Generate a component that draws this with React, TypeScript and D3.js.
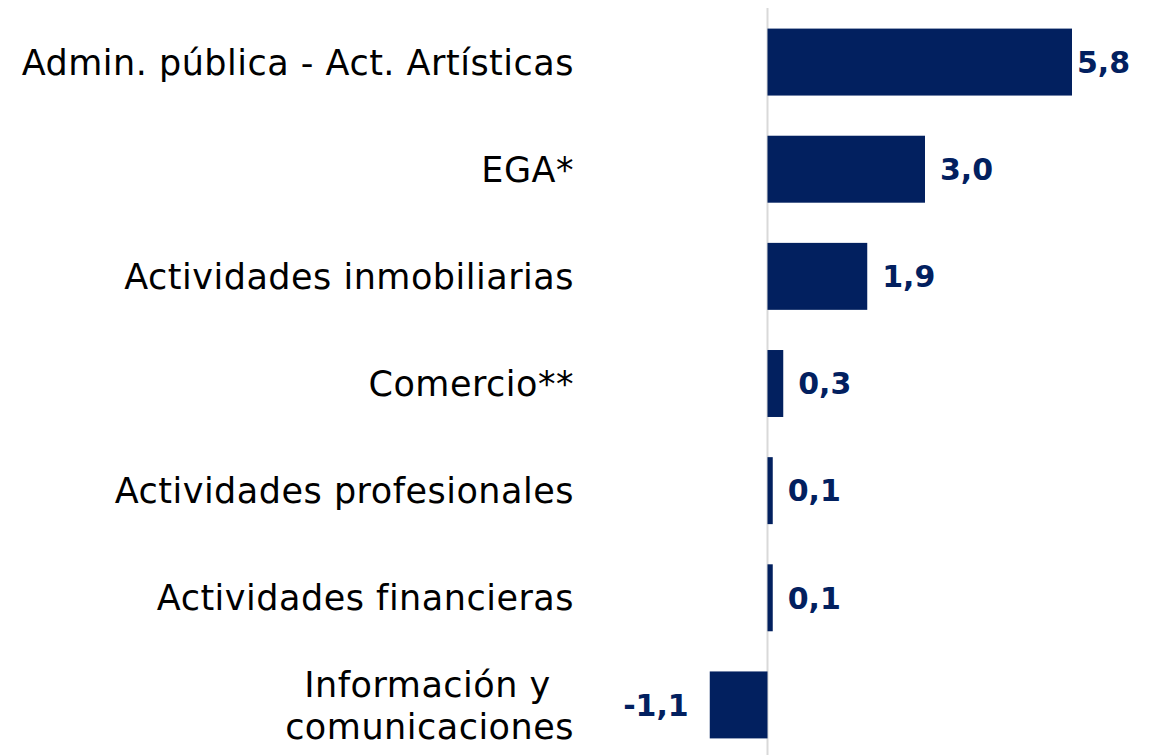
import React from 'react';
import { scaleLinear, scaleBand } from 'd3';

const categories = [
  'Admin. pública - Act. Artísticas',
  'EGA*',
  'Actividades inmobiliarias',
  'Comercio**',
  'Actividades profesionales',
  'Actividades financieras',
  'Información y  \ncomunicaciones',
];
const values = [5.8, 3.0, 1.9, 0.3, 0.1, 0.1, -1.1];

const W = 1157;
const H = 755;
const navy = '#02205f';

const App = () => {
  const x = scaleLinear().domain([0, 5.8]).range([767.5, 1072]);
  const y = scaleBand<string>()
    .domain(categories)
    .range([8.5, 758.5])
    .paddingInner(0.375)
    .paddingOuter(0.1875);

  const fmt = (v: number) => v.toFixed(1).replace('.', ',');

  return (
    <svg width={W} height={H} style={{ position: 'absolute', left: 0, top: 0 }}
      fontFamily="'DejaVu Sans', sans-serif">
      <line x1={x(0)} x2={x(0)} y1={8} y2={H} stroke="#d9d9d9" strokeWidth={2} />
      {categories.map((c, i) => {
        const v = values[i];
        const y0 = y(c)!;
        const bw = y.bandwidth();
        const cy = y0 + bw / 2;
        const lines = c.split('\n');
        const lh = 42;
        return (
          <g key={c}>
            <rect
              x={Math.min(x(0), x(v))}
              y={y0}
              width={Math.max(Math.abs(x(v) - x(0)), 3)}
              height={bw}
              fill={navy}
            />
            <text
              x={v >= 0 ? Math.min(x(v) + 15, 1077) : x(v) - 21}
              y={cy}
              dy="0.36em"
              textAnchor={v >= 0 ? 'start' : 'end'}
              fontWeight="bold"
              fontSize={30}
              fill={navy}
            >
              {fmt(v)}
            </text>
            <text textAnchor="end" fontSize={35} letterSpacing={0.5} fill="#000" style={{ whiteSpace: 'pre' }}>
              {lines.map((l, j) => (
                <tspan key={j} x={574} y={cy + (j - (lines.length - 1) / 2) * lh} dy="0.36em">
                  {l}
                </tspan>
              ))}
            </text>
          </g>
        );
      })}
    </svg>
  );
};

export default App;
